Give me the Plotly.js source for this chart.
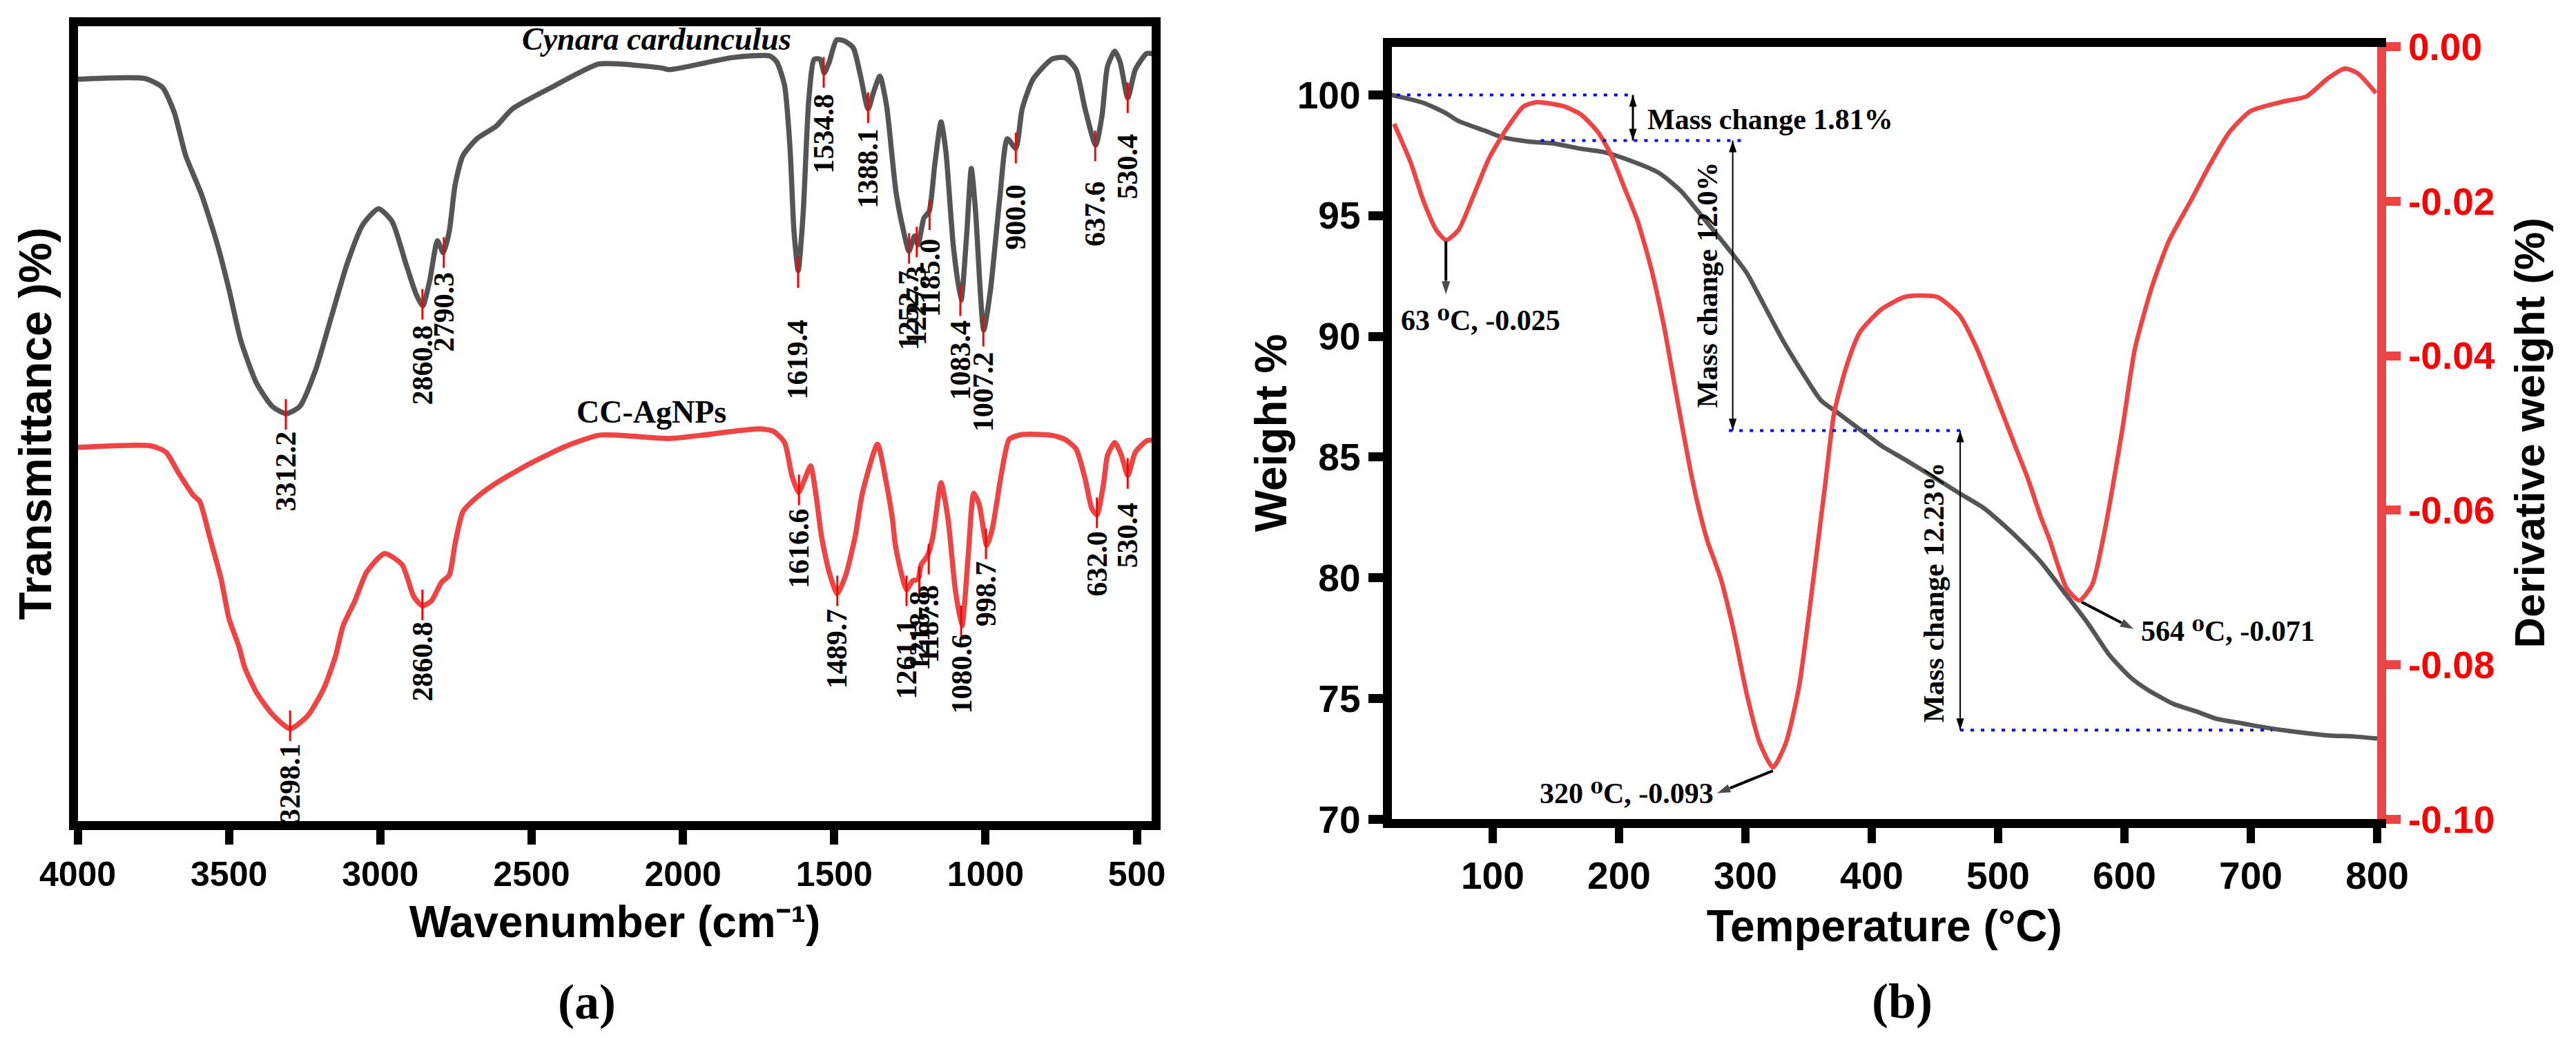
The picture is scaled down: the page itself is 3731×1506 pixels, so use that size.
<!DOCTYPE html>
<html>
<head>
<meta charset="utf-8">
<script src="https://cdn.plot.ly/plotly-3.0.1.min.js"></script>
<style>
  html, body { margin: 0; padding: 0; background: #fff; }
  #chart { width: 3731px; height: 1506px; }
</style>
</head>
<body>
<div id="chart"></div>
<script>
///////////////////////////////////////////////  data  /////////////////////////////////////////////////////////
// (a) FTIR, transmittance in arbitrary units
var ccWn = [4000, 3779, 3720, 3681, 3643, 3590, 3538, 3499, 3461, 3409, 3357, 3311, 3266, 3214, 3162, 3110, 3058, 3006, 2961, 2915,
  2882, 2860, 2837, 2811, 2792, 2772, 2753, 2727, 2681, 2616, 2564, 2434, 2279, 2204, 2069, 2044, 1836, 1713, 1689, 1664,
  1646, 1633, 1619, 1603, 1584, 1566, 1547, 1533, 1517, 1492, 1468, 1437, 1413, 1388, 1370, 1349, 1327, 1296, 1271, 1253,
  1235, 1223, 1204, 1186, 1168, 1147, 1131, 1106, 1081, 1063, 1047, 1033, 1006, 984, 953, 928, 900, 879, 843, 781,
  738, 701, 671, 636, 615, 597, 573, 555, 530, 505, 468, 450];
var ccT = [92.8, 92.9, 91.8, 88.7, 83.3, 78.4, 72.2, 66.5, 60.3, 55.0, 52.1, 51.2, 52.1, 56.6, 63.2, 69.8, 74.7, 76.7, 75.1, 69.8,
  66.1, 64.6, 67.7, 72.7, 71.2, 73.9, 79.6, 83.3, 85.4, 87.0, 89.1, 91.8, 94.7, 94.7, 94.2, 94.0, 95.5, 95.7, 94.9, 92.0,
  84.2, 73.9, 69.0, 75.9, 90.3, 95.3, 95.3, 93.6, 94.9, 97.7, 97.6, 96.7, 93.2, 89.1, 91.2, 93.2, 89.5, 78.8, 73.9, 71.4,
  73.3, 72.2, 75.5, 76.4, 82.1, 87.5, 83.8, 71.9, 65.3, 73.1, 81.7, 76.4, 61.6, 66.5, 78.0, 85.4, 84.2, 89.1, 92.8, 95.3,
  95.5, 94.0, 89.1, 84.6, 88.3, 94.4, 96.3, 94.9, 90.5, 94.0, 96.0, 96.0];

var agWn = [4000, 3759, 3708, 3668, 3617, 3597, 3564, 3526, 3500, 3467, 3448, 3409, 3357, 3298, 3240, 3188, 3149, 3123, 3084, 3045,
  2986, 2928, 2889, 2861, 2831, 2798, 2772, 2753, 2727, 2681, 2616, 2500, 2383, 2279, 2204, 2044, 1750, 1701, 1664, 1640,
  1618, 1597, 1578, 1560, 1542, 1517, 1490, 1462, 1431, 1407, 1357, 1330, 1308, 1297, 1261, 1241, 1223, 1213, 1192, 1174,
  1147, 1124, 1100, 1078, 1057, 1039, 1021, 996, 978, 953, 941, 922, 879, 781, 738, 701, 671, 649, 632, 610,
  597, 573, 551, 530, 505, 468, 450];
var agT = [47.0, 47.2, 46.4, 43.9, 41.0, 40.3, 35.9, 30.6, 25.7, 22.2, 19.6, 16.5, 13.8, 12.0, 13.6, 16.9, 20.9, 24.8, 27.9, 31.5,
  33.8, 32.4, 28.4, 27.3, 27.9, 30.2, 31.1, 35.0, 39.0, 40.8, 42.6, 45.1, 47.2, 48.5, 48.5, 48.1, 49.3, 49.0, 47.6, 43.5,
  41.4, 43.1, 44.7, 41.0, 35.9, 31.5, 28.8, 31.1, 35.9, 41.3, 47.4, 43.0, 38.2, 34.6, 29.3, 30.4, 30.6, 32.4, 33.5, 35.9,
  42.6, 38.1, 29.3, 24.8, 33.7, 41.3, 39.9, 34.8, 36.8, 42.5, 45.1, 48.0, 48.6, 48.5, 48.0, 46.8, 43.1, 39.4, 38.6, 42.5,
  46.0, 47.6, 46.0, 43.5, 46.4, 47.8, 47.9];

// marked peaks: wavenumber, level of the marker, level where the label starts
var ccPeakWn = [3312.2, 2860.8, 2790.3, 1619.4, 1534.8, 1388.1, 1252.7, 1227.3, 1185.0, 1083.4, 1007.2, 900.0, 637.6, 530.4];
var ccPeakT = [51.1, 64.8, 71.25, 68.75, 93.65, 89.25, 71.75, 72.55, 75.95, 65.25, 61.45, 84.25, 84.5, 90.5];
var ccLabelT = [49.2, 62.4, 69.0, 63.1, 91.2, 86.9, 69.2, 69.8, 73.1, 63.0, 59.1, 79.9, 80.3, 86.2];

var agPeakWn = [3298.1, 2860.8, 1616.6, 1489.7, 1261.1, 1218.8, 1187.8, 1080.6, 998.7, 632.0, 530.4];
var agPeakT = [12.35, 27.4, 41.7, 29.15, 29.15, 30.3, 33.1, 25.4, 35.0, 38.85, 43.75];
var agLabelT = [10.4, 25.5, 39.6, 27.1, 25.8, 29.3, 30.0, 24.0, 33.0, 36.8, 40.3];

var ftirTicks = [4000, 3500, 3000, 2500, 2000, 1500, 1000, 500];

// (b) TGA / DTG
var tgaT = [20, 45.2, 62.5, 72.8, 93.7, 107.5, 128.2, 148.9, 169.7, 187.0, 207.7, 231.9, 249.2, 266.3, 287.2, 301.0, 314.9, 328.7, 346.0, 359.8,
  373.7, 391.0, 408.2, 425.5, 449.0, 469.4, 489.7, 513.5, 533.8, 554.1, 571.1, 588.1, 605.1, 618.7, 639.0, 656.0, 672.9, 693.3, 717.0, 761.1,
  781.3, 800];
var tgaW = [100.0, 99.67, 99.26, 98.92, 98.52, 98.25, 98.07, 97.98, 97.77, 97.64, 97.30, 96.76, 96.01, 94.93, 93.58, 92.63, 91.28, 89.92, 88.43, 87.35,
  86.81, 86.13, 85.45, 84.92, 84.17, 83.5, 82.85, 81.75, 80.66, 79.28, 78.11, 76.80, 75.86, 75.35, 74.77, 74.48, 74.16, 73.97, 73.75, 73.47,
  73.43, 73.34];

var dtgT = [22, 34.9, 45.2, 55.5, 63.1, 72.9, 83.2, 97.1, 110.9, 124.8, 135.2, 155.8, 169.7, 183.4, 193.9, 204.3, 214.6, 225.0, 235.4, 245.7,
  256.1, 262.0, 270.0, 280.3, 290.7, 301.0, 311.3, 321.8, 332.1, 342.5, 352.9, 363.3, 370.2, 380.5, 390.9, 408.2, 425.4, 436.0, 452.4, 469.4,
  483.0, 496.5, 513.5, 523.6, 533.8, 540.6, 554.2, 564.3, 574.5, 584.7, 598.3, 608.4, 622.0, 635.5, 652.5, 666.1, 683.0, 699.9, 727.0, 744.1,
  761.0, 774.6, 784.8, 799];
var dtgD = [-0.0100, -0.01489, -0.01996, -0.02376, -0.02504, -0.02376, -0.01996, -0.01447, -0.01066, -0.00770, -0.00720, -0.00770, -0.00876, -0.01109, -0.01404, -0.01828, -0.02251, -0.02843, -0.03604, -0.04533,
  -0.05450, -0.05900, -0.06400, -0.06874, -0.07557, -0.08374, -0.09010, -0.09329, -0.09010, -0.08281, -0.07010, -0.05647, -0.04745, -0.04111, -0.03689, -0.03393, -0.03244, -0.03223, -0.03244, -0.03477,
  -0.03900, -0.04450, -0.05170, -0.05592, -0.06089, -0.06375, -0.07010, -0.07169, -0.06964, -0.06238, -0.04957, -0.03900, -0.03096, -0.02504, -0.01996, -0.01574, -0.01109, -0.00834, -0.00706, -0.00644,
  -0.00411, -0.00284, -0.00347, -0.00600];

var dtgTickVals = [0, -0.02, -0.04, -0.06, -0.08, -0.10];
var dtgTickText = ['0.00', '-0.02', '-0.04', '-0.06', '-0.08', '-0.10'];

// mass-loss steps: weight levels and the temperature span of each guide line
var stepLevels = [100.0, 98.11, 86.10, 73.69];
var stepFrom = [24, 138, 287, 470];
var stepTo = [211, 301, 470, 717];
var stepArrowT = [211, 290, 470];
var stepText = ['Mass change 1.81%', 'Mass change 12.0%', 'Mass change 12.23%'];

// DTG peaks (temperature) and their notes
var dtgPeakT = [63, 321.8, 566];
var dtgPeakText = ['63 \u2070C, -0.025', '320 \u2070C, -0.093', '564 \u2070C, -0.071'];


///////////////////////////////////////////////  styles  /////////////////////////////////////////////////////////
var SANS = 'Liberation Sans, Arial, sans-serif';
var SERIF = 'Liberation Serif, Times New Roman, DejaVu Serif, serif';
var GREY = '#555555';
var RED = '#f04444';


///////////////////////////////////////////////  helpers  /////////////////////////////////////////////////////////
function peakTicks(wn, level) {
  var xs = [], ys = [];
  for (var i = 0; i < wn.length; i++) {
    xs.push(wn[i], wn[i], null);
    ys.push(level[i] + 1.9, level[i] - 1.9, null);
  }
  return { x: xs, y: ys, xaxis: 'x', yaxis: 'y', mode: 'lines', line: { color: '#ff0000', width: 3 }, hoverinfo: 'skip' };
}

function peakLabels(wn, labelLevel) {
  var out = [];
  for (var i = 0; i < wn.length; i++) {
    out.push({
      x: wn[i], y: labelLevel[i], xref: 'x', yref: 'y',
      text: wn[i].toFixed(1), textangle: -90, xanchor: 'center', yanchor: 'top',
      showarrow: false, font: { family: SERIF, size: 42, weight: 'bold', color: '#000' }
    });
  }
  return out;
}

// single arrow from tail to head, drawn as a line with an arrow marker at the head
function arrowTrace(xs, ys, yaxis, width, size) {
  return {
    x: xs, y: ys, xaxis: 'x2', yaxis: yaxis, mode: 'lines+markers', hoverinfo: 'skip',
    line: { color: '#000', width: width },
    marker: { symbol: 'arrow', size: [0, size], angleref: 'previous', color: '#000' }
  };
}

// vertical double arrow between two levels
function doubleArrowTrace(x, yTop, yBottom, width, size) {
  return {
    x: [x, x], y: [yTop, yBottom], xaxis: 'x2', yaxis: 'y2', mode: 'lines+markers', hoverinfo: 'skip',
    line: { color: '#000', width: width },
    marker: { symbol: 'arrow', size: size, angleref: 'up', angle: [0, 180], color: '#000' }
  };
}

function note(text, x, y, yref, xanchor, angle) {
  return {
    x: x, y: y, xref: 'x2', yref: yref, text: text, showarrow: false, xanchor: xanchor, yanchor: 'middle',
    textangle: angle || 0, font: { family: SERIF, size: 42, weight: 'bold', color: '#000' }
  };
}


///////////////////////////////////////////////  traces  /////////////////////////////////////////////////////////
var data = [
  { x: ccWn, y: ccT, xaxis: 'x', yaxis: 'y', mode: 'lines', line: { color: GREY, width: 7.5, shape: 'spline', smoothing: 0.6 }, name: 'Cynara cardunculus' },
  { x: agWn, y: agT, xaxis: 'x', yaxis: 'y', mode: 'lines', line: { color: RED, width: 7.5, shape: 'spline', smoothing: 0.6 }, name: 'CC-AgNPs' },
  peakTicks(ccPeakWn, ccPeakT),
  peakTicks(agPeakWn, agPeakT),
  { x: tgaT, y: tgaW, xaxis: 'x2', yaxis: 'y2', mode: 'lines', line: { color: GREY, width: 6.5, shape: 'spline', smoothing: 0.6 }, name: 'TGA' },
  { x: dtgT, y: dtgD, xaxis: 'x2', yaxis: 'y3', mode: 'lines', line: { color: RED, width: 6.5, shape: 'spline', smoothing: 0.6 }, name: 'DTG' },
  // mass change arrows
  doubleArrowTrace(stepArrowT[0], stepLevels[0], stepLevels[1], 3, 18),
  doubleArrowTrace(stepArrowT[1], stepLevels[1], stepLevels[2], 2, 18),
  doubleArrowTrace(stepArrowT[2], stepLevels[2], stepLevels[3], 2, 18),
  // DTG peak arrows
  arrowTrace([dtgPeakT[0], dtgPeakT[0]], [-0.0252, -0.0322], 'y3', 4, 22),
  arrowTrace([dtgPeakT[1], 277], [72.01, 71.06], 'y2', 4, 22),
  arrowTrace([dtgPeakT[2], 607.8], [79.0, 77.86], 'y2', 4, 22)
];


///////////////////////////////////////////////  annotations  /////////////////////////////////////////////////////////
var annotations = [];
annotations = annotations.concat(peakLabels(ccPeakWn, ccLabelT), peakLabels(agPeakWn, agLabelT));

annotations.push({ x: 2086, y: 97.8, xref: 'x', yref: 'y', text: '<i>Cynara cardunculus</i>', showarrow: false,
  font: { family: SERIF, size: 46, weight: 'bold', color: '#000' } });
annotations.push({ x: 2103, y: 51.4, xref: 'x', yref: 'y', text: 'CC-AgNPs', showarrow: false,
  font: { family: SERIF, size: 46, weight: 'bold', color: '#000' } });

annotations.push(note(stepText[0], 221.6, 98.99, 'y2', 'left'));
annotations.push(note(stepText[1], 269.9, 92.13, 'y2', 'center', -90));
annotations.push(note(stepText[2], 449.0, 79.4, 'y2', 'center', -90));

annotations.push(note(dtgPeakText[0], 26.2, 90.66, 'y2', 'left'));
annotations.push(note(dtgPeakText[1], 276, 71.06, 'y2', 'right'));
annotations.push(note(dtgPeakText[2], 611.8, 77.8, 'y2', 'left'));

// panel letters
annotations.push({ x: 0.2278, y: 0.0365, xref: 'paper', yref: 'paper', text: '(a)', showarrow: false,
  xanchor: 'center', yanchor: 'middle', font: { family: SERIF, size: 72, weight: 'bold', color: '#000' } });
annotations.push({ x: 0.7384, y: 0.0372, xref: 'paper', yref: 'paper', text: '(b)', showarrow: false,
  xanchor: 'center', yanchor: 'middle', font: { family: SERIF, size: 72, weight: 'bold', color: '#000' } });

var shapes = [];
for (var i = 0; i < stepLevels.length; i++) {
  shapes.push({ type: 'line', xref: 'x2', yref: 'y2', x0: stepFrom[i], x1: stepTo[i], y0: stepLevels[i], y1: stepLevels[i],
    line: { color: '#0000ff', width: 4, dash: '5px,10px' } });
}


///////////////////////////////////////////////  layout  /////////////////////////////////////////////////////////
var tickFontA = { family: SANS, size: 50, weight: 'bold', color: '#000' };
var tickFontB = { family: SANS, size: 55, weight: 'bold', color: '#000' };
var titleFont = { family: SANS, size: 64, weight: 'bold', color: '#000' };

var layout = {
  width: 3731, height: 1506,
  margin: { l: 0, r: 0, t: 0, b: 0 },
  paper_bgcolor: '#fff', plot_bgcolor: '#fff',
  showlegend: false,
  xaxis: {
    domain: [0.030153, 0.447199], anchor: 'y', range: [4000, 450], tickvals: ftirTicks,
    ticks: 'outside', ticklen: 21, tickwidth: 12, tickcolor: '#000',
    showline: true, linecolor: '#000', linewidth: 13, mirror: true, showgrid: false, zeroline: false,
    tickfont: tickFontA, title: { text: 'Wavenumber (cm\u207B\u00B9)', font: titleFont, standoff: 25 }
  },
  yaxis: {
    domain: [0.210491, 0.974768], anchor: 'x', range: [0.5, 99.4],
    showticklabels: false, ticks: '', showline: true, linecolor: '#000', linewidth: 13, mirror: true,
    showgrid: false, zeroline: false,
    title: { text: 'Transmittance )%)', font: { family: SANS, size: 66, weight: 'bold', color: '#000' }, standoff: 9 }
  },
  xaxis2: {
    domain: [0.540204, 0.922809], anchor: 'y2', range: [20, 800], tick0: 0, dtick: 100,
    ticks: 'outside', ticklen: 22, tickwidth: 12, tickcolor: '#000',
    showline: true, linecolor: '#000', linewidth: 13, mirror: true, showgrid: false, zeroline: false,
    tickfont: tickFontB, title: { text: 'Temperature (°C)', font: titleFont, standoff: 25 }
  },
  yaxis2: {
    domain: [0.212284, 0.955179], anchor: 'x2', range: [70, 102], tick0: 70, dtick: 5,
    ticks: 'outside', ticklen: 21, tickwidth: 13, tickcolor: '#000',
    showline: true, linecolor: '#000', linewidth: 13, showgrid: false, zeroline: false,
    tickfont: tickFontB, title: { text: 'Weight %', font: titleFont, standoff: 0 }
  },
  yaxis3: {
    overlaying: 'y2', side: 'right', anchor: 'x2', range: [-0.1, 0],
    tickvals: dtgTickVals, ticktext: dtgTickText,
    ticks: 'outside', ticklen: 21, tickwidth: 13, tickcolor: RED,
    showline: true, linecolor: RED, linewidth: 13, showgrid: false, zeroline: false,
    tickfont: { family: SANS, size: 55, weight: 'bold', color: '#ff0000' },
    title: { text: 'Derivative weight (%)', font: { family: SANS, size: 62, weight: 'bold', color: '#000' }, standoff: 34 }
  },
  annotations: annotations,
  shapes: shapes
};

Plotly.newPlot('chart', data, layout, { displayModeBar: false, staticPlot: true });
</script>
</body>
</html>
